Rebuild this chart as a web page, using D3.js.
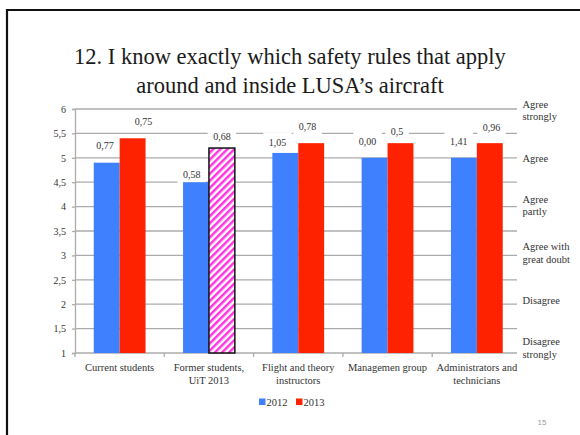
<!DOCTYPE html>
<html>
<head>
<meta charset="utf-8">
<script src="https://cdn.jsdelivr.net/npm/d3@7/dist/d3.min.js"></script>
<style>
  html, body { margin: 0; padding: 0; background: #fff; }
  svg { display: block; }
</style>
</head>
<body>
<svg id="chart" width="580" height="435"></svg>
<script>
// Survey question 12: mean scores per group, 2012 vs 2013
const categories = ["Current students", "Former students,\nUiT 2013", "Flight and theory\ninstructors", "Managemen group", "Administrators and\ntechnicians"];
const years = ["2012", "2013"];
const values2012 = [4.9, 4.5, 5.1, 5.0, 5.0];
const values2013 = [5.4, 5.2, 5.3, 5.3, 5.3];
// spread figures printed above each bar
const labels2012 = ["0,77", "0,58", "1,05", "0,00", "1,41"];
const labels2013 = ["0,75", "0,68", "0,78", "0,5", "0,96"];
// the former-students 2013 figure comes from a separate survey
const hatched2013 = [false, true, false, false, false];
const yTickValues = [1, 1.5, 2, 2.5, 3, 3.5, 4, 4.5, 5, 5.5, 6];
const scaleLevels = [6, 5, 4, 3, 2, 1];
const scaleNames = ["Agree\nstrongly", "Agree", "Agree\npartly", "Agree with\ngreat doubt", "Disagree", "Disagree\nstrongly"];

// hand placement of the data labels (dx, dy from the bar's top centre)
const labelShift2012 = [[-1.7, -17], [-4.2, -8], [-7.8, -10.6], [-7, -16], [-5.2, -16]];
const labelShift2013 = [[10.8, -16.6], [0, -11.3], [-3.6, -16.5], [-3.4, -11.5], [1.7, -16]];

const colors = { "2012": "#3f80ff", "2013": "#ff2200" };
const hatchColor = "#ff33e0";
const gridColor = "#ababab";
const serif = "'Liberation Serif', 'Times New Roman', serif";
const ink = "#333";

const svg = d3.select("#chart");

// slide frame (top and left edges)
svg.append("path")
  .attr("d", "M7,435 L7,10 L580,10")
  .attr("fill", "none").attr("stroke", "#111").attr("stroke-width", 2.2);

// title
const title = svg.append("text")
  .attr("text-anchor", "middle")
  .style("font-family", serif)
  .style("font-size", "22.5px")
  .style("fill", "#1a1a1a");
title.append("tspan").attr("x", 290).attr("y", 64).text("12. I know exactly which safety rules that apply");
title.append("tspan").attr("x", 290).attr("y", 93).text("around and inside LUSA\u2019s aircraft");

const plot = { left: 75, right: 517, top: 109, bottom: 353 };

const y = d3.scaleLinear().domain([1, 6]).range([plot.bottom, plot.top]);
const x0 = d3.scaleBand().domain(d3.range(categories.length))
  .range([plot.left, 521.5]).paddingInner(0.42).paddingOuter(0.21);
const x1 = d3.scaleBand().domain(years).range([0, x0.bandwidth()]);

const fmt = v => d3.format("")(v).replace(".", ",");

// horizontal gridlines
svg.append("g").selectAll("line")
  .data(yTickValues.filter(v => v > 1))
  .join("line")
  .attr("x1", plot.left).attr("x2", plot.right)
  .attr("y1", d => y(d)).attr("y2", d => y(d))
  .attr("stroke", gridColor).attr("stroke-width", 1.3);

// left axis
const yAxis = d3.axisLeft(y).tickValues(yTickValues).tickFormat(fmt).tickSize(3).tickPadding(6);
const gy = svg.append("g").attr("transform", `translate(${plot.left},0)`).call(yAxis);
gy.attr("font-family", null).attr("font-size", null);
gy.select(".domain").attr("stroke", gridColor).attr("stroke-width", 1.3);
gy.selectAll(".tick line").attr("stroke", gridColor).attr("stroke-width", 1.3);
gy.selectAll(".tick text")
  .style("font-size", "10px").style("font-family", serif).style("fill", ink);

// bottom axis line with category separators
svg.append("line")
  .attr("x1", plot.left).attr("x2", plot.right)
  .attr("y1", plot.bottom).attr("y2", plot.bottom)
  .attr("stroke", gridColor).attr("stroke-width", 1.3);
svg.append("g").selectAll("line")
  .data(d3.range(categories.length))
  .join("line")
  .attr("x1", d => x0(d) - x0.step() * x0.paddingOuter())
  .attr("x2", d => x0(d) - x0.step() * x0.paddingOuter())
  .attr("y1", plot.bottom).attr("y2", plot.bottom + 4)
  .attr("stroke", gridColor).attr("stroke-width", 1.3);

// hatch pattern
const defs = svg.append("defs");
const pat = defs.append("pattern")
  .attr("id", "hatch").attr("patternUnits", "userSpaceOnUse")
  .attr("width", 5).attr("height", 5)
  .attr("patternTransform", "rotate(45)");
pat.append("rect").attr("width", 5).attr("height", 5).attr("fill", "#fff");
pat.append("rect").attr("x", 0).attr("width", 2.5).attr("height", 5).attr("fill", hatchColor);

// bar records
const bars = [];
categories.forEach((c, i) => {
  bars.push({ i, year: "2012", value: values2012[i], label: labels2012[i], shift: labelShift2012[i], hatched: false });
  bars.push({ i, year: "2013", value: values2013[i], label: labels2013[i], shift: labelShift2013[i], hatched: hatched2013[i] });
});
const barX = d => x0(d.i) + x1(d.year);
const labelCx = d => barX(d) + x1.bandwidth() / 2 + d.shift[0];
const labelCy = d => y(d.value) + d.shift[1];

// data label backgrounds (white boxes that break the gridlines)
const boxG = svg.append("g");
const barG = svg.append("g");
const labelG = svg.append("g");
labelG.selectAll("text")
  .data(bars)
  .join("text")
  .attr("text-anchor", "middle")
  .attr("x", labelCx)
  .attr("y", labelCy)
  .attr("dy", "0.35em")
  .style("font-family", serif)
  .style("font-size", "10px")
  .style("fill", ink)
  .text(d => d.label)
  .each(function (d) {
    const w = this.getComputedTextLength() + 11;
    boxG.append("rect")
      .attr("x", labelCx(d) - w / 2).attr("y", labelCy(d) - 10)
      .attr("width", w).attr("height", 20)
      .attr("fill", "#fff");
  });

// bars
barG.selectAll("rect")
  .data(bars)
  .join("rect")
  .attr("x", barX)
  .attr("y", d => y(d.value))
  .attr("width", x1.bandwidth())
  .attr("height", d => y(1) - y(d.value))
  .attr("fill", d => d.hatched ? "url(#hatch)" : colors[d.year])
  .attr("stroke", d => d.hatched ? "#111" : "none")
  .attr("stroke-width", 1.5);

// category labels
const catG = svg.append("g");
categories.forEach((c, i) => {
  const t = catG.append("text")
    .attr("text-anchor", "middle")
    .style("font-family", serif)
    .style("font-size", "10.5px")
    .style("fill", ink);
  c.split("\n").forEach((line, k) => {
    t.append("tspan")
      .attr("x", x0(i) + x0.bandwidth() / 2)
      .attr("y", 371 + k * 12.5)
      .text(line);
  });
});

// verbal scale on the right
const ySide = d3.scaleLinear().domain([6, 1]).range([110.5, 348]);
const sideG = svg.append("g");
scaleLevels.forEach((lv, i) => {
  const lines = scaleNames[i].split("\n");
  const t = sideG.append("text")
    .style("font-family", serif)
    .style("font-size", "10.5px")
    .style("fill", ink);
  lines.forEach((line, k) => {
    t.append("tspan")
      .attr("x", 522.5)
      .attr("y", ySide(lv) + (k - (lines.length - 1) / 2) * 12.5)
      .attr("dy", "0.35em")
      .text(line);
  });
});

// legend
const legend = svg.append("g");
const legendX = d3.scaleOrdinal().domain(years).range([259, 296]);
years.forEach(yr => {
  legend.append("rect")
    .attr("x", legendX(yr)).attr("y", 398.5)
    .attr("width", 6.5).attr("height", 6.5)
    .attr("fill", colors[yr]);
  legend.append("text")
    .attr("x", legendX(yr) + 7.5).attr("y", 405.5)
    .style("font-family", serif)
    .style("font-size", "10.5px")
    .style("fill", ink)
    .text(yr);
});

// slide number
svg.append("text")
  .attr("x", 542).attr("y", 425)
  .attr("text-anchor", "middle")
  .style("font-size", "8px")
  .style("font-family", "'Liberation Sans', Arial, sans-serif")
  .style("fill", "#999")
  .text("15");
</script>
</body>
</html>
